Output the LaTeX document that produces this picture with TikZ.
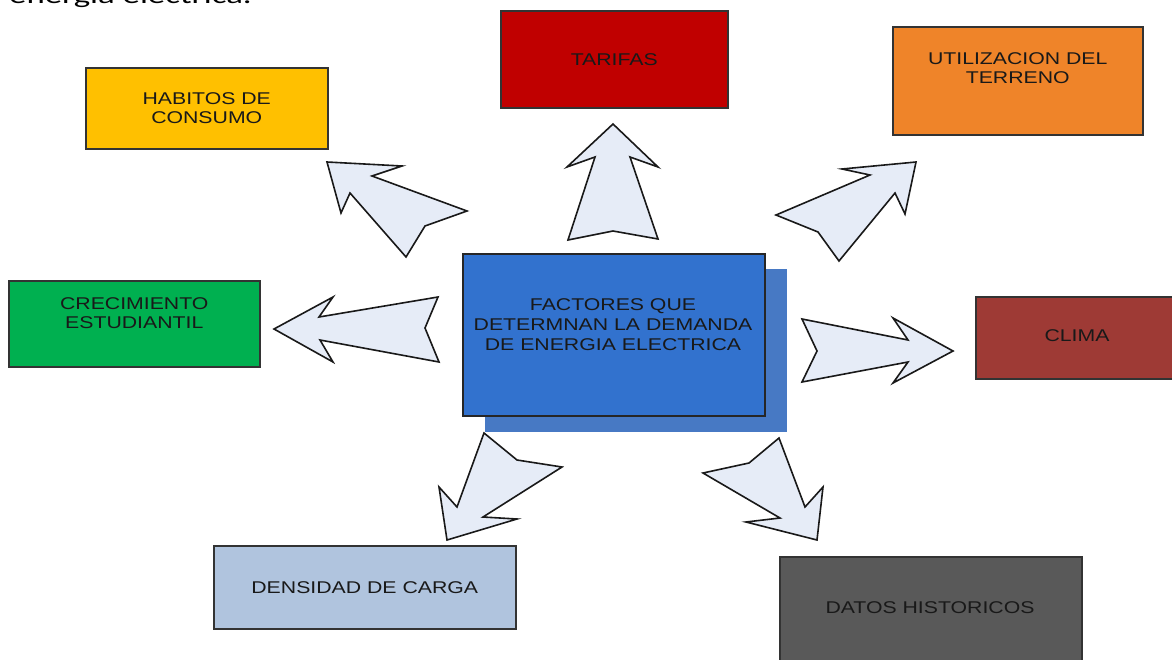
\documentclass[tikz,border=0pt]{standalone}
\usepackage{fontspec}
\setmainfont{Liberation Sans}
\newfontfamily\boxfont{Liberation Sans}[FakeStretch=1.25]
\newfontfamily\bodyfont{Carlito}[FakeStretch=1.45]

\definecolor{cHabitos}{HTML}{FFC000}
\definecolor{cTarifas}{HTML}{C00000}
\definecolor{cTerreno}{HTML}{EF8429}
\definecolor{cCrec}{HTML}{00B050}
\definecolor{cClima}{HTML}{9E3A35}
\definecolor{cDens}{HTML}{B0C4DE}
\definecolor{cDatos}{HTML}{595959}
\definecolor{cCentral}{HTML}{3272CE}
\definecolor{cShadow}{HTML}{4779C4}
\definecolor{arrowfill}{HTML}{E6ECF7}

\tikzset{
  factor/.style={rectangle, draw=black!80, line width=1.5pt, anchor=north west,
    inner sep=0pt, align=center, text=black!90,
    font=\boxfont\fontsize{17}{19}\selectfont},
  blockarrow/.style={draw=black!90, line width=1.6pt, fill=arrowfill, line join=miter},
}

\begin{document}
\begin{tikzpicture}[x=1pt, y=-1pt]
\path[use as bounding box] (0,0) rectangle (1172,659);
\fill[white] (0,0) rectangle (1172,659);
\clip (0,0) rectangle (1172,659);

% line of running text above the diagram
\node[anchor=base west, inner sep=0pt, font=\bodyfont\fontsize{24}{24}\selectfont] (intro) at (9,3.5) {energía eléctrica.};

% block arrows radiating from the central box
\draw[blockarrow] (327,162) -- (341,213) -- (350,193) -- (406,257) -- (425,226)
  -- (467,211) -- (372,176) -- (402,166) -- cycle;
\draw[blockarrow] (613,124) -- (567,167) -- (595,157) -- (568,240) -- (613,231)
  -- (658,239) -- (630,157) -- (658,167) -- cycle;
\draw[blockarrow] (916,162) -- (842,169) -- (870,175) -- (776,215) -- (818,232)
  -- (839,261) -- (895,193) -- (905,214) -- cycle;
\draw[blockarrow] (953,351) -- (893,318) -- (908,340) -- (802,319) -- (817,351)
  -- (802,382) -- (908,362) -- (893,383) -- cycle;
\draw[blockarrow] (274,329) -- (333,297) -- (319,317) -- (438,297) -- (425,328)
  -- (439,362) -- (320,340) -- (333,362) -- cycle;
\draw[blockarrow] (447,540) -- (439,487) -- (457,507) -- (484,433) -- (517,460)
  -- (562,467) -- (483,517) -- (517,519) -- cycle;
\draw[blockarrow] (817,540) -- (823,487) -- (805,507) -- (779,438) -- (749,463)
  -- (703,473) -- (780,518) -- (746,522) -- cycle;

% central box with its offset shadow
\node[rectangle, anchor=north west, fill=cShadow, minimum width=302pt, minimum height=163pt, inner sep=0pt] (shadow) at (485,269) {};
\node[rectangle, anchor=north west, fill=cCentral, draw=black!85, line width=1.6pt, minimum width=302pt, minimum height=162pt, inner sep=0pt] (central) at (462,253) {};
\node[align=center, inner sep=0pt, text=black!90, font=\boxfont\fontsize{17}{20}\selectfont] (centraltext) at (613,325)
  {FACTORES QUE\\DETERMNAN LA DEMANDA\\DE ENERGIA ELECTRICA};

% surrounding factor boxes
\node[factor, fill=cHabitos, minimum width=242pt, minimum height=81pt] (habitos) at (85,67) {HABITOS DE\\CONSUMO};
\node[factor, fill=cTarifas, minimum width=227pt, minimum height=97pt] (tarifas) at (500,10) {TARIFAS};
\node[factor, fill=cTerreno, minimum width=250pt, minimum height=108pt] (terreno) at (892,26) {UTILIZACION DEL\\TERRENO\\[6pt]};
\node[factor, fill=cCrec, minimum width=251pt, minimum height=86pt] (crecimiento) at (8,280) {CRECIMIENTO\\ESTUDIANTIL\\[3pt]};
\node[factor, fill=cClima, minimum width=204pt, minimum height=82pt] (clima) at (975,296) {};
\node[inner sep=0pt, text=black!90, font=\boxfont\fontsize{17}{19}\selectfont] (climatext) at (1077,336) {CLIMA};
\node[factor, fill=cDens, minimum width=302pt, minimum height=83pt] (densidad) at (213,545) {DENSIDAD DE CARGA};
\node[factor, fill=cDatos, minimum width=302pt, minimum height=110pt] (datos) at (779,556) {};
\node[inner sep=0pt, text=black!90, font=\boxfont\fontsize{17}{19}\selectfont] (datostext) at (930,608) {DATOS HISTORICOS};
\end{tikzpicture}
\end{document}
